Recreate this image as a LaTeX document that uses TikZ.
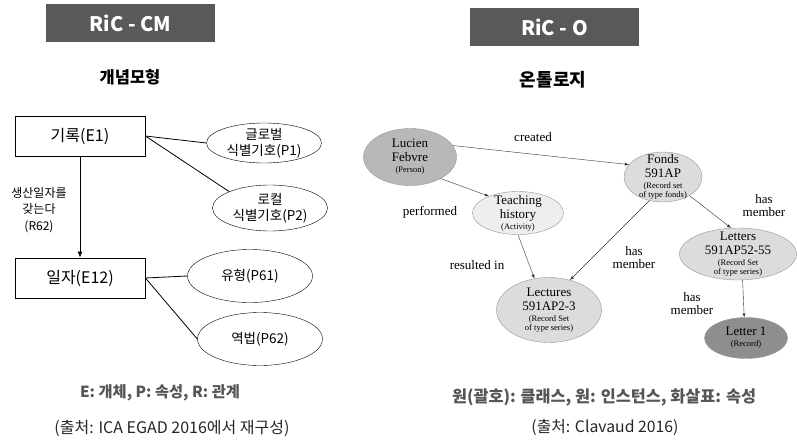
\documentclass[tikz,border=0pt]{standalone}
\usepackage{fontspec}
\setmainfont{Noto Sans CJK KR}
\newfontfamily\serifnode{Liberation Serif}
\usepackage{tikz}
\usetikzlibrary{arrows.meta, positioning, shapes.geometric}
\usepackage{xcolor}
\definecolor{titlegray}{RGB}{89,89,89}
\definecolor{keygray}{RGB}{85,85,85}
\definecolor{personfill}{RGB}{184,184,184}
\definecolor{recordfill}{RGB}{142,142,142}
\definecolor{setfill}{RGB}{220,220,220}
\definecolor{activityfill}{RGB}{238,238,238}
\definecolor{rimgray}{RGB}{150,150,150}
\newcommand{\sm}[1]{{\fontsize{8.5}{9}\selectfont #1}}
\tikzset{%
	titlebox/.style={
		fill=titlegray,
		text=white,
		inner sep=0pt,
		minimum width=169pt,
		minimum height=38pt,
		font=\bfseries\fontsize{20}{24}\selectfont
	},
	heading/.style={font=\bfseries\fontsize{16.5}{19}\selectfont},
	entity/.style={
		draw,
		thick,
		minimum width=130pt,
		minimum height=40pt,
		font=\fontsize{16}{19}\selectfont
	},
	prop/.style={
		ellipse,
		draw,
		inner xsep=0pt,
		inner ysep=-1.5pt,
		align=center,
		font=\fontsize{13.5}{15.5}\selectfont
	},
	rellabel/.style={align=center, font=\fontsize{12}{16.5}\selectfont},
	inst/.style={
		ellipse,
		draw=rimgray,
		inner sep=0pt
	},
	insttext/.style={align=center, font=\serifnode\fontsize{13}{14}\selectfont},
	edgelabel/.style={align=center, font=\serifnode\fontsize{13}{13}\selectfont},
	keytext/.style={text=keygray, font=\bfseries\fontsize{15.3}{18}\selectfont},
	sourcetext/.style={text=black!85, font=\fontsize{16}{19}\selectfont},
}

\begin{document}
\begin{tikzpicture}[x=1pt, y=-1pt]
			\useasboundingbox (0,0) rectangle (797,439);
			
			% Titles
			\node[titlebox] (cmtitle) at (130.5,23) {RiC - CM};
			\node[titlebox] (otitle) at (554.5,27) {RiC - O};
			\node[heading] (cmhead) at (130,77) {개념모형};
			\node[heading, font=\bfseries\fontsize{18}{21}\selectfont] (ohead) at (553,80) {온톨로지};
			
			% Conceptual model: entities and properties
			\node[entity] (e1) at (80,136) {기록(E1)};
			\node[entity] (e12) at (80,278) {일자(E12)};
			\node[prop, minimum width=115pt, minimum height=40pt] (p1) at (264,143) {글로벌\\식별기호(P1)};
			\node[prop, minimum width=115pt, minimum height=46pt] (p2) at (270,208) {로컬\\식별기호(P2)};
			\node[prop, minimum width=125pt, minimum height=53pt] (p61) at (250,276) {유형(P61)};
			\node[prop, minimum width=125pt, minimum height=53pt] (p62) at (260,339) {역법(P62)};
			\node[rellabel] (r62) at (39,210) {생산일자를\\갖는다\\(R62)};
			
			\draw[thick] (e1.east) -- (p1.west);
			\draw[thick] (e1.east) -- (p2.north west);
			\draw[thick] (e12.east) -- (p61.west);
			\draw[thick] (e12.east) -- (p62.west);
			\draw[thick, -{Latex[length=6pt, width=5pt]}] (e1) -- (e12);
			
			\node[keytext] (cmkey) at (160,393) {E: 개체, P: 속성, R: 관계};
			\node[sourcetext] (cmsrc) at (172,428) {(출처: ICA EGAD 2016에서 재구성)};
			
			% Ontology: instances
			\node[inst, fill=personfill, minimum width=93pt, minimum height=57pt] (lucien) at (410,157) {};
			\node[inst, fill=activityfill, minimum width=91pt, minimum height=43pt] (teaching) at (518,213) {};
			\node[inst, fill=setfill, minimum width=78pt, minimum height=50pt] (fonds) at (663,177) {};
			\node[inst, fill=setfill, minimum width=105pt, minimum height=65pt] (lectures) at (549,310) {};
			\node[inst, fill=setfill, minimum width=117pt, minimum height=52pt] (letters) at (738,254) {};
			\node[inst, fill=recordfill, minimum width=83pt, minimum height=41pt] (letter1) at (746,338) {};
			
			\node[insttext] (luciename) at (lucien) {Lucien\\Febvre\\[-3pt]\sm{(Person)}};
			\node[insttext] (teachingname) at (teaching) {Teaching\\history\\[-3pt]\sm{(Activity)}};
			\node[insttext] (fondsname) at (fonds) {Fonds\\591AP\\[-3pt]\sm{(Record set}\\[-5pt]\sm{of type fonds)}};
			\node[insttext] (lecturesname) at (lectures) {Lectures\\591AP2-3\\[-3pt]\sm{(Record Set}\\[-5pt]\sm{of type series)}};
			\node[insttext] (lettersname) at (letters) {Letters\\591AP52-55\\[-3pt]\sm{(Record Set}\\[-5pt]\sm{of type series)}};
			\node[insttext] (letter1name) at (letter1) {Letter 1\\[-3pt]\sm{(Record)}};
			
			% Ontology: properties
			\draw[black!80, -{Latex[length=4pt, width=3pt]}] (lucien.15) -- (fonds.160);
			\draw[black!80, -{Latex[length=4pt, width=3pt]}] (lucien.-35) -- (teaching.150);
			\draw[black!80, -{Latex[length=4pt, width=3pt]}] (teaching.south) -- (lectures.115);
			\draw[black!80, -{Latex[length=4pt, width=3pt]}] (fonds.-120) -- (lectures.55);
			\draw[black!80, -{Latex[length=4pt, width=3pt]}] (fonds.-35) -- (letters.105);
			\draw[black!80, -{Latex[length=4pt, width=3pt]}] (letters.-80) -- (letter1.95);
			
			\node[edgelabel] (created) at (533,137) {created};
			\node[edgelabel] (performed) at (430,212) {performed};
			\node[edgelabel] (resulted) at (477,265) {resulted in};
			\node[edgelabel] (member1) at (634,258) {has\\member};
			\node[edgelabel] (member2) at (764,206) {has\\member};
			\node[edgelabel] (member3) at (692,304) {has\\member};
			
			\node[keytext, font=\bfseries\fontsize{16.3}{19}\selectfont] (okey) at (604,397) {원(괄호): 클래스, 원: 인스턴스, 화살표: 속성};
			\node[sourcetext, font=\fontsize{15.8}{19}\selectfont] (osrc) at (605,427) {(출처: Clavaud 2016)};
			
\end{tikzpicture}
\end{document}
